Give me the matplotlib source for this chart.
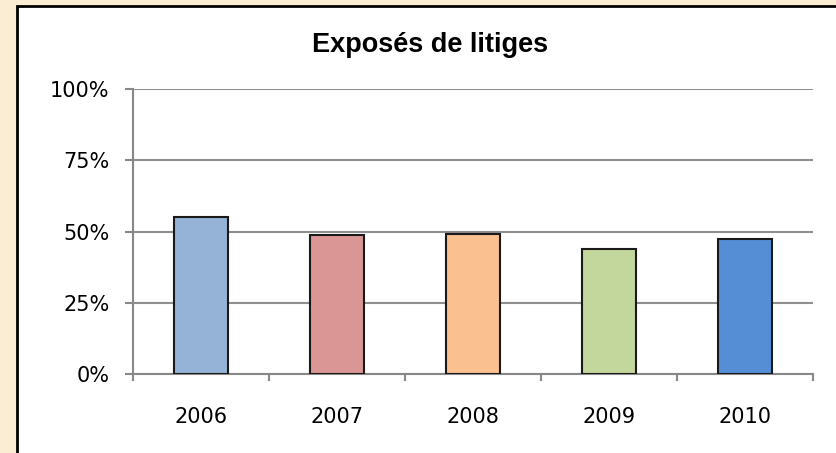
import matplotlib.pyplot as plt
from matplotlib.patches import Rectangle
from matplotlib.ticker import FuncFormatter

years = ['2006', '2007', '2008', '2009', '2010']
values = [0.551, 0.487, 0.491, 0.440, 0.473]
colors = ['#95B3D7', '#D99694', '#FAC090', '#C3D69B', '#558ED5']
yticks = [0, 0.25, 0.5, 0.75, 1.0]

fig = plt.figure(figsize=(8.36, 4.53), dpi=100)
fig.patch.set_facecolor('#FBEDD4')

# white chart frame
W, H = 836, 453
frame = Rectangle((17 / W, -0.1), 1.2, (1 - 6 / H) + 0.1, transform=fig.transFigure,
                  facecolor='white', edgecolor='black', linewidth=2, zorder=-1)
fig.patches.append(frame)

ax = fig.add_axes([133 / W, 1 - 374 / H, (813 - 133) / W, (374 - 89) / H])
ax.set_facecolor('none')
ax.set_zorder(1)

x = list(range(len(years)))
ax.bar(x, values, width=0.40, color=colors, edgecolor='#1a1a1a', linewidth=1.5, zorder=3)

ax.set_xlim(-0.5, 4.5)
ax.set_ylim(0, 1)
ax.set_yticks(yticks)
ax.yaxis.set_major_formatter(FuncFormatter(lambda v, p: f'{int(round(v * 100))}%'))
ax.grid(axis='y', color='#8f8f8f', linewidth=1.5, zorder=0)

ax.set_xticks(x)
ax.set_xticklabels(years)
ax.set_xticks([i - 0.5 for i in range(len(years) + 1)], minor=True)
ax.tick_params(axis='x', which='major', length=0, pad=24, labelsize=15)
ax.tick_params(axis='x', which='minor', length=5, width=1.5, color='#888888', direction='out')
ax.tick_params(axis='y', length=6, width=1.5, color='#888888', pad=11, labelsize=15)

for side in ['top', 'right']:
    ax.spines[side].set_visible(False)
for side in ['left', 'bottom']:
    ax.spines[side].set_color('#888888')
    ax.spines[side].set_linewidth(1.5)

fig.text(430 / W, 1 - 52 / H, 'Exposés de litiges', ha='center', va='baseline',
         fontsize=19.5, fontweight='bold', family='Liberation Sans')

fig.savefig('out.png', dpi=100, facecolor=fig.get_facecolor())
